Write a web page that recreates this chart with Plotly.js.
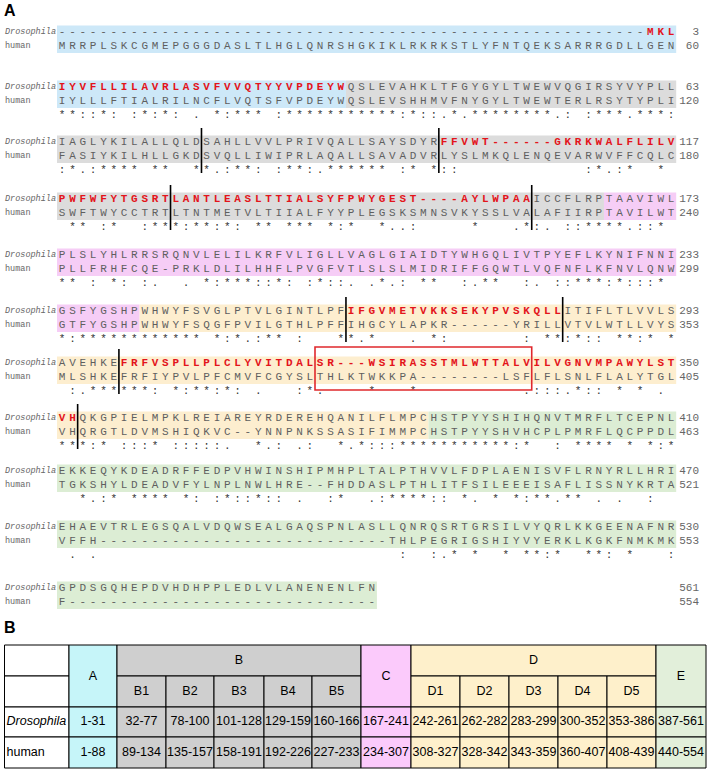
<!DOCTYPE html>
<html><head><meta charset="utf-8">
<script src="https://cdn.plot.ly/plotly-3.0.1.min.js"></script>
<style>html,body{margin:0;padding:0;background:#fff}#chart{width:708px;height:772px}</style>
</head><body><div id="chart"></div>
<script>
// ---------- DATA ----------
const drosSeq = [
  "---------------------------------------------------------MKL",
  "IYVFLLILAVRLASVFVVQTYYVPDEYWQSLEVAHKLTFGYGYLTWEWVQGIRSYVYPLL",
  "IAGLYKILALLQLDSAHLLVVLPRIVQALLSAYSDYRFFVWT------GKRKWALFLILV",
  "PWFWFYTGSRTLANTLEASLTTIALSYFPWYGEST----AYLWPAAICCFLRPTAAVIWL",
  "PLSLYHLRRSRQNVLELILKRFVLIGLLVAGLGIAIDTYWHGQLIVTPYEFLKYNIFNNI",
  "GSFYGSHPWHWYFSVGLPTVLGINTLPFIFGVMETVKKSEKYPVSKQLLITIFLTLVVLS",
  "AVEHKEFRFVSPLLPLCLYVITDALSR---WSIRASSTMLWTTALVILVGNVMPAWYLST",
  "VHQKGPIELMPKLREIAREYRDEREHQANILFLMPCHSTPYYSHIHQNVTMRFLTCEPNL",
  "EKKEQYKDEADRFFEDPVHWINSHIPMHPLTALPTHVVLFDPLAENISVFLRNYRLLHRI",
  "EHAEVTRLEGSQALVDQWSEALGAQSPNLASLLQNRQSRTGRSILVYQRLKKGEENAFNR",
  "GPDSGQHEPDVHDHPPLEDLVLANENENLFN"
];
const humanSeq = [
  "MRRPLSKCGMEPGGGDASLTLHGLQNRSHGKIKLRKRKSTLYFNTQEKSARRRGDLLGEN",
  "IYLLLFTIALRILNCFLVQTSFVPDEYWQSLEVSHHMVFNYGYLTWEWTERLRSYTYPLI",
  "FASIYKILHLLGKDSVQLLIWIPRLAQALLSAVADVRLYSLMKQLENQEVARWVFFCQLC",
  "SWFTWYCCTRTLTNTMETVLTIIALFYYPLEGSKSMNSVKYSSLVALAFIIRPTAVILWT",
  "PLLFRHFCQE-PRKLDLILHHFLPVGFVTLSLSLMIDRIFFGQWTLVQFNFLKFNVLQNW",
  "GTFYGSHPWHWYFSQGFPVILGTHLPFFIHGCYLAPKR------YRILLVTVLWTLLVYS",
  "MLSHKEFRFIYPVLPFCMVFCGYSLTHLKTWKKPA--------LSFLFLSNLFLALYTGL",
  "VHQRGTLDVMSHIQKVC--YNNPNKSSASIFIMMPCHSTPYYSHVHCPLPMRFLQCPPDL",
  "TGKSHYLDEADVFYLNPLNWLHRE--FHDDASLPTHLITFSILEEEISAFLISSNYKRTA",
  "VFFH----------------------------THLPEGRIGSHIYVYERKLKGKFNMKMK",
  "F------------------------------"
];
const consensus = [
  "",
  "**::*: :*:*: . *:*** :***********:*::.*.********.: :***.***:",
  ":*.:**** **  **.:**: :**:.****** :* *::            :*.:*  * ",
  " ** :*  :***:**:*: ** *** *:*  *..:     *   .*:. ::****.::* ",
  "** : *: :.  . *:***::*: :*::. .*.: **  :.**  :. ::***:*:::* ",
  "*:************ *:*.:** :   **.*   . *:       : **:*:: **:* *",
  " :.******: *:**:*: .   :*.    *   *          .:::.*:: * * . ",
  "***:* :::* :::::.  *.: .:  *.*:::***********:*  : **** * *:*",
  "  *.:* **** *: :*::*:: .  :*  .:****:: *. * *:**.** . .  :  ",
  " . .                             :  :.* *  * **:*  **: *   :",
  ""
];
const drosEnd  = [3, 63, 117, 173, 233, 293, 350, 410, 470, 530, 561];
const humanEnd = [60, 120, 180, 240, 299, 353, 405, 463, 521, 553, 554];
const speciesLabels = ["Drosophila", "human"];
const domains     = ["A","B1","B2","B3","B4","B5","C","D1","D2","D3","D4","D5","E"];
const drosRanges  = ["1-31","32-77","78-100","101-128","129-159","160-166","167-241","242-261","262-282","283-299","300-352","353-386","387-561"];
const humanRanges = ["1-88","89-134","135-157","158-191","192-226","227-233","234-307","308-327","328-342","343-359","360-407","408-439","440-554"];
const highlighted = ["A","B3","B4","D2","D4"];
const boxedDros   = [319, 336];

// ---------- STYLE / LAYOUT CONSTANTS ----------
const bandFill  = {A:"#cde8f8", B:"#dcdcdc", C:"#f6cdf6", D:"#fdeecf", E:"#dcedd4"};
const tableFill = {A:"#c6f5f9", B:"#cfcfcf", C:"#fbcafb", D:"#fef0cb", E:"#e2efda"};
const X0 = 57, CW = 10.32;
const blockY = [32, 87, 142, 199, 255, 311, 363, 418, 471, 527, 588];
const ROW = 14, STAR = 28;
const TX = [4.5, 69, 117, 166, 214, 264, 312, 361, 411, 460, 509, 558, 607, 656, 706];
const TY = [645, 676, 707, 737, 768];

const doms = domains.map((d,i)=>{const p=drosRanges[i].split("-").map(Number);return {name:d,group:d[0],s:p[0],e:p[1]};});
const domOf = r => doms.find(d=>r>=d.s && r<=d.e);

const shapes = [];
const gray={x:[],y:[],text:[]}, red={x:[],y:[],text:[]}, star={x:[],y:[],text:[]};
const nums={x:[],y:[],text:[]}, lbl={x:[],y:[],text:[]};
const subStarts = doms.filter(d=>d.name.length>1 && d.name[1]!=="1").map(d=>d.s);
const problems = [];

drosSeq.forEach((d,b)=>{
  const h = humanSeq[b], c = consensus[b];
  if (h.length!==d.length) problems.push("h"+b+":"+h.length);
  if (c.length && c.length!==d.length) problems.push("c"+b+":"+c.length);
  const y0 = blockY[b], yh = y0+ROW, ys = y0+STAR;
  const nongap = d.replace(/-/g,"").length;
  const start = drosEnd[b]-nongap+1;
  let cur = start-1;
  const cols = [];
  for (let i=0;i<d.length;i++){ if(d[i]!=="-") cur++; cols.push({res:d[i]!=="-"?cur:null,last:cur}); }
  let runStart=0, runG=null;
  const gAt = i => domOf(cols[i].last>=1?cols[i].last:start).group;
  for (let i=0;i<=d.length;i++){
    const g = i<d.length?gAt(i):null;
    if (g!==runG){
      if (runG!==null) shapes.push({type:"rect",xref:"x",yref:"y",layer:"below",x0:X0+runStart*CW,x1:X0+i*CW,y0:y0-6.5,y1:yh+7,fillcolor:bandFill[runG],line:{width:0}});
      runG=g; runStart=i;
    }
  }
  for (let i=0;i<d.length;i++){
    const x = X0+(i+0.5)*CW;
    const L = cols[i].last;
    if (L>=1 && highlighted.includes(domOf(L).name)) { red.x.push(x); red.y.push(y0); red.text.push(d[i]); }
    else { gray.x.push(x); gray.y.push(y0); gray.text.push(d[i]); }
    gray.x.push(x); gray.y.push(yh); gray.text.push(h[i]);
    if (c && c[i]!==" ") { star.x.push(x); star.y.push(ys); star.text.push(c[i]); }
  }
  subStarts.forEach(s=>{
    const idx = cols.findIndex(o=>o.res===s);
    if (idx>=0) shapes.push({type:"line",xref:"x",yref:"y",x0:X0+idx*CW,x1:X0+idx*CW,y0:y0-14,y1:ys+3,line:{color:"#000",width:1.6}});
  });
  const bi0 = cols.findIndex(o=>o.res===boxedDros[0]), bi1 = cols.findIndex(o=>o.res===boxedDros[1]);
  if (bi0>=0 && bi1>=0) shapes.push({type:"rect",xref:"x",yref:"y",x0:X0+bi0*CW,x1:X0+(bi1+1)*CW,y0:y0-16,y1:y0+27,line:{color:"#e0282c",width:1.6},fillcolor:"rgba(0,0,0,0)"});
  nums.x.push(699,699); nums.y.push(y0,yh); nums.text.push(String(drosEnd[b]),String(humanEnd[b]));
  lbl.x.push(5,5); lbl.y.push(y0,yh); lbl.text.push("<i>"+speciesLabels[0]+"</i>",speciesLabels[1]);
});

// ---------- TABLE ----------
const tabText={x:[],y:[],text:[]}, tabLeft={x:[],y:[],text:[]};
const cellRect=(x0,x1,y0,y1,fill)=>shapes.push({type:"rect",xref:"x",yref:"y",layer:"below",x0,x1,y0,y1,fillcolor:fill,line:{color:"#000",width:1}});
[[0,1],[1,2],[2,3],[3,4]].forEach(([a,bb])=>cellRect(TX[0],TX[1],TY[a],TY[bb],"#ffffff"));
tabLeft.x.push(TX[0]+2,TX[0]+2); tabLeft.y.push((TY[2]+TY[3])/2,(TY[3]+TY[4])/2);
tabLeft.text.push("<i>"+speciesLabels[0]+"</i>",speciesLabels[1]);
["A","B","C","D","E"].forEach(g=>{
  const idx = domains.map((d,i)=>d[0]===g?i:-1).filter(i=>i>=0);
  const xa = TX[idx[0]+1], xb = TX[idx[idx.length-1]+2];
  if (idx.length===1){
    cellRect(xa,xb,TY[0],TY[2],tableFill[g]);
    tabText.x.push((xa+xb)/2); tabText.y.push(TY[1]+1); tabText.text.push(g);
  } else {
    cellRect(xa,xb,TY[0],TY[1],tableFill[g]);
    tabText.x.push((xa+xb)/2); tabText.y.push((TY[0]+TY[1])/2); tabText.text.push(g);
    idx.forEach(i=>{
      cellRect(TX[i+1],TX[i+2],TY[1],TY[2],tableFill[g]);
      tabText.x.push((TX[i+1]+TX[i+2])/2); tabText.y.push((TY[1]+TY[2])/2); tabText.text.push(domains[i]);
    });
  }
  idx.forEach(i=>{
    cellRect(TX[i+1],TX[i+2],TY[2],TY[3],tableFill[g]);
    cellRect(TX[i+1],TX[i+2],TY[3],TY[4],tableFill[g]);
    const cx=(TX[i+1]+TX[i+2])/2;
    tabText.x.push(cx,cx); tabText.y.push((TY[2]+TY[3])/2,(TY[3]+TY[4])/2);
    tabText.text.push(drosRanges[i],humanRanges[i]);
  });
});

const mono = "Liberation Mono, DejaVu Sans Mono, monospace";
const sans = "Liberation Sans, Arial, sans-serif";
const T = (o,pos,font)=>({type:"scatter",mode:"text",x:o.x,y:o.y,text:o.text,textposition:pos,textfont:font,hoverinfo:"skip",cliponaxis:false,showlegend:false});
const data = [
  T(gray,"middle center",{family:mono,size:11,color:"#5f5f5f"}),
  T(red,"middle center",{family:mono,size:11,color:"#e3141b",weight:"bold"}),
  T(star,"middle center",{family:mono,size:11,color:"#333333"}),
  T(nums,"middle left",{family:mono,size:11,color:"#666666"}),
  T(lbl,"middle right",{family:mono,size:8.5,color:"#666666"}),
  T(tabText,"middle center",{family:sans,size:12.5,color:"#000000"}),
  T(tabLeft,"middle right",{family:sans,size:12.5,color:"#000000"}),
  T({x:[4,4],y:[12,629],text:["<b>A</b>","<b>B</b>"]},"middle right",{family:sans,size:16,color:"#000000"})
];
if (problems.length) data.push(T({x:[300],y:[760],text:[problems.join(" ")]},"middle center",{family:sans,size:14,color:"#ff0000"}));

const layout = {
  width:708, height:772, margin:{l:0,r:0,t:0,b:0},
  paper_bgcolor:"#ffffff", plot_bgcolor:"#ffffff", showlegend:false, hovermode:false,
  xaxis:{range:[0,708],visible:false,fixedrange:true},
  yaxis:{range:[772,0],visible:false,fixedrange:true},
  shapes
};
Plotly.newPlot("chart", data, layout, {displayModeBar:false, staticPlot:true});
</script></body></html>
